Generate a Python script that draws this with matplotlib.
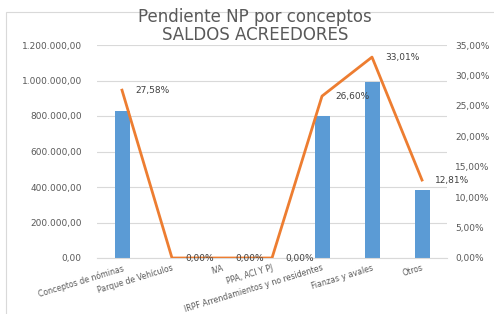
import matplotlib
matplotlib.use("Agg")
import matplotlib.pyplot as plt
from matplotlib.patches import Rectangle
from matplotlib.ticker import FuncFormatter, MultipleLocator

categories = ["Conceptos de nóminas", "Parque de Vehículos", "IVA", "PPA, ACI Y PJ",
              "IRPF Arrendamientos y no residentes", "Fianzas y avales", "Otros"]
importes = [827400, 0, 0, 0, 798000, 990300, 384300]
porcentajes = [27.58, 0.00, 0.00, 0.00, 26.60, 33.01, 12.81]
title_text = "Pendiente NP por conceptos\nSALDOS ACREEDORES"

W, H = 494, 314
fig = plt.figure(figsize=(W / 100, H / 100), dpi=100)
fig.patch.set_facecolor("white")

# chart frame
fig.patches.append(Rectangle((6 / W, -0.05), 1.1, 1 - 12 / H + 0.05, transform=fig.transFigure,
                             fill=False, edgecolor="#D9D9D9", linewidth=0.8))

ax = fig.add_axes([97 / W, 1 - 258 / H, 350 / W, 213 / H])
ax2 = ax.twinx()

gray = "#595959"
x = list(range(len(categories)))
ax.bar(x, importes, width=0.3, color="#5B9BD5", zorder=2)
ax.set_xlim(-0.5, len(categories) - 0.5)
ax.set_ylim(0, 1200000)
ax.yaxis.set_major_locator(MultipleLocator(200000))

def fmt_num(v, pos):
    s = f"{v:,.2f}"
    return s.replace(",", "X").replace(".", ",").replace("X", ".")

ax.yaxis.set_major_formatter(FuncFormatter(fmt_num))
ax.grid(axis="y", color="#D9D9D9", linewidth=0.8, zorder=0)
ax.set_axisbelow(True)

ax2.plot(x, porcentajes, color="#ED7D31", linewidth=2, zorder=3)
ax2.set_ylim(0, 35)
ax2.yaxis.set_major_locator(MultipleLocator(5))
ax2.yaxis.set_major_formatter(FuncFormatter(lambda v, p: f"{v:.2f}%".replace(".", ",")))

for xi, p in zip(x, porcentajes):
    ax2.annotate(f"{p:.2f}%".replace(".", ","), (xi, p), xytext=(9.5, 0),
                 textcoords="offset points", ha="left", va="center",
                 fontsize=6.5, color="#404040")

for a in (ax, ax2):
    for s in a.spines.values():
        s.set_visible(False)
    a.tick_params(length=0, labelsize=6.5, labelcolor=gray)

ax.tick_params(axis="y", pad=11)
ax2.tick_params(axis="y", pad=6)
ax.spines["bottom"].set_visible(True)
ax.spines["bottom"].set_color("#D9D9D9")
ax.set_xticks(x)
ax.set_xticklabels(categories, rotation=17, ha="right", rotation_mode="anchor",
                   fontsize=5.6, color=gray)
ax.tick_params(axis="x", pad=4)

fig.text(255 / W, 1 - 26 / H, title_text, ha="center", va="center",
         fontsize=12, color=gray, linespacing=0.95)

fig.savefig("out.png", dpi=100)
